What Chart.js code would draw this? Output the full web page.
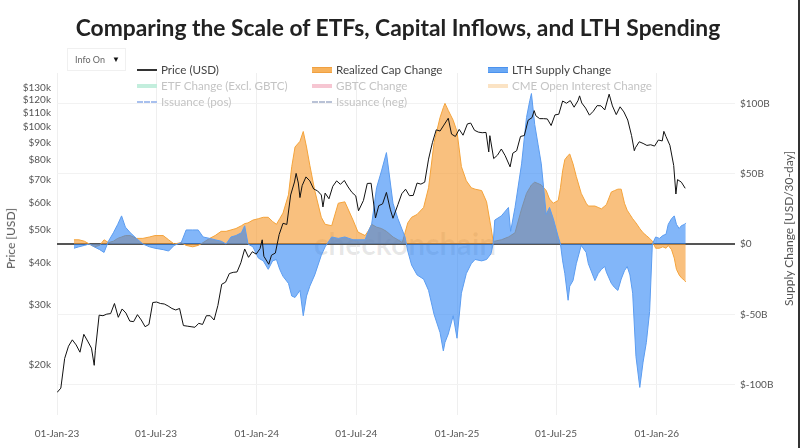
<!DOCTYPE html>
<html>
<head>
<meta charset="utf-8">
<script src="https://cdn.jsdelivr.net/npm/chart.js@4.4.1/dist/chart.umd.min.js"></script>
<style>
  html, body { margin: 0; padding: 0; background: #fff; }
  #wrap { position: relative; width: 800px; height: 448px; overflow: hidden; font-family: Lato, "Open Sans", sans-serif; }
  #title { position: absolute; left: 0; top: 13px; width: 796px; text-align: center; font-size: 22.8px; line-height: 28px; font-weight: 700; color: #222; }
  #mark { position: absolute; left: 290px; top: 225px; width: 230px; text-align: center; font-size: 30px; font-weight: 700; color: rgba(0,0,0,0.09); }
  #chart { position: absolute; left: 0; top: 0; }
  #edge { position: absolute; right: 0; top: 0; width: 2px; height: 448px; background: #333; }
  .info { position: absolute; left: 67px; top: 48px; width: 57px; height: 21px; border: 1px solid #f0f0f0; background: #fff; font-size: 9px; line-height: 21px; color: #666; }
  .info span { position: absolute; left: 7px; }
  .info b { position: absolute; right: 5px; font-size: 8px; color: #111; }
  .lg { position: absolute; height: 14px; line-height: 14px; font-size: 11.6px; color: #444; white-space: nowrap; }
  .lg.off { color: #c4c4c4; }
  .sw { display: inline-block; width: 20px; vertical-align: middle; margin-right: 4px; position: relative; top: -1px; }
  .axt { position: absolute; font-size: 12px; color: #555; white-space: nowrap; transform: rotate(-90deg); transform-origin: center center; }
</style>
</head>
<body>
<div id="wrap">
  <div id="mark">checkonchain</div>
  <canvas id="chart" width="800" height="448"></canvas>
  <div id="title">Comparing the Scale of ETFs, Capital Inflows, and LTH Spending</div>
  <div class="info"><span>Info On</span><b>&#9660;</b></div>
  <div id="legend"></div>
  <div class="axt" id="axl">Price [USD]</div>
  <div class="axt" id="axr">Supply Change [USD/30-day]</div>
  <div id="edge"></div>
</div>
<script>
// BTC price, USD
const priceDates = [
  "2023-01-01","2023-01-08","2023-01-15","2023-01-22","2023-01-29","2023-02-05","2023-02-12","2023-02-19","2023-02-26","2023-03-05",
  "2023-03-10","2023-03-12","2023-03-19","2023-03-26","2023-04-02","2023-04-09","2023-04-16","2023-04-23","2023-04-30","2023-05-07",
  "2023-05-14","2023-05-21","2023-05-28","2023-06-04","2023-06-11","2023-06-18","2023-06-25","2023-07-02","2023-07-09","2023-07-16",
  "2023-07-23","2023-07-30","2023-08-06","2023-08-13","2023-08-20","2023-08-27","2023-09-03","2023-09-10","2023-09-17","2023-09-24",
  "2023-10-01","2023-10-08","2023-10-15","2023-10-22","2023-10-29","2023-11-05","2023-11-12","2023-11-19","2023-11-26","2023-12-03",
  "2023-12-10","2023-12-17","2023-12-24","2023-12-31","2024-01-07","2024-01-11","2024-01-14","2024-01-23","2024-01-28","2024-02-04",
  "2024-02-11","2024-02-18","2024-02-25","2024-03-03","2024-03-10","2024-03-13","2024-03-17","2024-03-20","2024-03-24","2024-03-31",
  "2024-04-07","2024-04-14","2024-04-21","2024-04-28","2024-05-01","2024-05-05","2024-05-12","2024-05-19","2024-05-26","2024-06-02",
  "2024-06-09","2024-06-16","2024-06-23","2024-06-30","2024-07-05","2024-07-14","2024-07-21","2024-07-28","2024-08-05","2024-08-11",
  "2024-08-18","2024-08-25","2024-09-01","2024-09-06","2024-09-15","2024-09-22","2024-09-29","2024-10-06","2024-10-13","2024-10-20",
  "2024-10-27","2024-11-03","2024-11-10","2024-11-17","2024-11-24","2024-12-01","2024-12-08","2024-12-16","2024-12-22","2024-12-29",
  "2025-01-05","2025-01-12","2025-01-20","2025-01-26","2025-02-02","2025-02-09","2025-02-16","2025-02-23","2025-02-28","2025-03-02",
  "2025-03-09","2025-03-16","2025-03-23","2025-03-30","2025-04-08","2025-04-13","2025-04-20","2025-04-27","2025-05-04","2025-05-11",
  "2025-05-18","2025-05-22","2025-05-25","2025-06-01","2025-06-08","2025-06-15","2025-06-22","2025-06-29","2025-07-06","2025-07-13",
  "2025-07-20","2025-07-27","2025-08-03","2025-08-10","2025-08-13","2025-08-17","2025-08-24","2025-08-31","2025-09-07","2025-09-14",
  "2025-09-21","2025-09-28","2025-10-06","2025-10-12","2025-10-19","2025-10-26","2025-11-02","2025-11-09","2025-11-16","2025-11-21",
  "2025-11-23","2025-11-30","2025-12-07","2025-12-14","2025-12-21","2025-12-28","2026-01-04","2026-01-11","2026-01-14","2026-01-18",
  "2026-01-25","2026-02-01","2026-02-05","2026-02-08","2026-02-15","2026-02-22"
];
const priceUsd = [
  16600,17100,20900,22700,23700,22900,21800,24600,23500,22400,
  19950,22000,28000,27900,28200,28300,30300,27600,29200,28400,
  26900,26800,28100,27100,25900,26300,30500,30600,30300,30200,
  29800,29300,29000,29300,26100,26000,25900,25800,26500,26300,
  27900,27900,27100,29900,34500,35000,37100,37400,37500,39900,
  43800,41400,43000,42300,43900,46600,41700,39500,42000,42600,
  48300,52100,51700,63100,68900,73000,68400,62000,67200,71300,
  69400,65700,64900,63100,58200,63900,61500,66900,69400,67800,
  69600,66600,64200,62700,56700,60800,68200,68300,54000,58700,
  59400,64200,57300,53900,59100,63600,65600,62800,62900,68400,
  67900,68800,80400,89800,98000,97200,101200,106000,95200,93700,
  98300,94500,102000,102600,97700,96500,96100,96300,84400,94200,
  80700,82600,86100,82300,76300,83700,85100,93700,94300,104600,
  106400,111600,107800,105700,105700,105500,100900,108400,108900,119100,
  117300,119400,114200,119300,123300,117500,113500,108200,111100,115400,
  115300,112100,124700,115200,108600,114500,110600,104700,94200,85100,
  86800,90400,89400,88200,88600,87800,91500,90900,97000,93600,
  88300,77000,63500,70000,68800,66000
];

// 30-day supply changes, billions USD
const flowDates = [
  "2023-02-01","2023-02-10","2023-02-20","2023-03-01","2023-03-10","2023-03-20","2023-03-28","2023-04-05","2023-04-14","2023-04-22",
  "2023-04-29","2023-05-06","2023-05-15","2023-05-26","2023-06-07","2023-06-19","2023-06-29","2023-07-14","2023-07-24","2023-08-03",
  "2023-08-16","2023-08-25","2023-09-06","2023-09-16","2023-09-25","2023-10-07","2023-10-17","2023-10-28","2023-11-06","2023-11-15",
  "2023-11-24","2023-12-04","2023-12-10","2023-12-16","2023-12-25","2024-01-04","2024-01-13","2024-01-22","2024-01-30","2024-02-06",
  "2024-02-12","2024-02-18","2024-02-28","2024-03-05","2024-03-11","2024-03-20","2024-03-26","2024-04-01","2024-04-07","2024-04-16",
  "2024-04-28","2024-05-05","2024-05-17","2024-05-29","2024-06-10","2024-06-25","2024-07-04","2024-07-17","2024-07-24","2024-07-29",
  "2024-08-07","2024-08-16","2024-08-25","2024-09-06","2024-09-15","2024-09-23","2024-09-28","2024-10-03","2024-10-10","2024-10-20",
  "2024-11-01","2024-11-10","2024-11-20","2024-12-01","2024-12-07","2024-12-10","2024-12-16","2024-12-25","2025-01-01","2025-01-09",
  "2025-01-18","2025-01-27","2025-02-03","2025-02-15","2025-02-24","2025-03-04","2025-03-08","2025-03-11","2025-03-23","2025-04-05",
  "2025-04-09","2025-04-17","2025-04-29","2025-05-08","2025-05-14","2025-05-17","2025-05-23","2025-05-29","2025-06-04","2025-06-13",
  "2025-06-19","2025-06-26","2025-07-05","2025-07-09","2025-07-13","2025-07-17","2025-07-23","2025-07-26","2025-08-01","2025-08-07",
  "2025-08-16","2025-08-25","2025-08-29","2025-09-10","2025-09-16","2025-09-22","2025-09-28","2025-10-01","2025-10-10","2025-10-16",
  "2025-10-22","2025-10-28","2025-11-03","2025-11-08","2025-11-13","2025-11-18","2025-11-24","2025-12-01","2025-12-07","2025-12-13",
  "2025-12-19","2025-12-24","2025-12-30","2026-01-06","2026-01-12","2026-01-18","2026-01-22","2026-01-28","2026-02-02","2026-02-06",
  "2026-02-11","2026-02-15","2026-02-21","2026-02-23"
];
const realizedCap = [
  3,3,2,0,-2,-1,3,1,2,4,
  5,6,6,4,4,5,6,6,3,0,
  1,-1,-2,-1,1,4,6,9,9,10,
  11,13,14.5,15,17,18,19,19,16,14,
  18,22,35,55,69,73,80,69,56,38,
  19,14,13,29,30,17,8.5,6,10,14,
  12,11,9,5,3,1,8,15,19,21,
  26,40,72,90,97,100,95,88,80,55,
  45,40,39,38,30,12,2,2,3,5,
  6,8,25,36,40,42,44,43,42,38,
  32,29,31,40,52,60,63,64,57,48,
  36,29,27,27,26,25,27,28,37,38,
  39,39,29,24,21,18,15,11,8,6,
  4,2,-3,-3,-2,-3,-1,-4,-10,-18,
  -22,-24,-26,-27
];
const lthSupply = [
  -3,-2,-1,0,-2,-4,-6,2,8,14,
  20,12,8,4,0,-2,-3,-4,-5,-1,
  1,10,10,10,5,4,3,2,0,5,
  6,8,13,0,-2,-10,-12,-18,-12,-11,
  -18,-23,-28,-37,-38,-33,-51,-37,-30,-22,
  -8,-2,5,4,5,3,3,3,10,14,
  40,52,65,29,18,10,5,-5,-15,-22,
  -25,-33,-50,-63,-76,-70,-64,-51,-67,-35,
  -21,-14,-11,-12,-11,-7,0,17,20,26,
  9,26,57,90,102,107,85,71,57,21,
  26,18,5,0,-12,-21,-40,-30,-26,-14,
  -1,-6,-14,-26,-21,-18,-16,-20,-28,-31,
  -33,-25,-19,-16,-22,-35,-80,-102,-84,-70,
  -48,0,5,4,6,7,14,18,20,14,
  11,13,14,15
];

// axes
const xTickDates = ["2023-01-01","2023-07-01","2024-01-01","2024-07-01","2025-01-01","2025-07-01","2026-01-01"];
const xTickLabels = ["01-Jan-23","01-Jul-23","01-Jan-24","01-Jul-24","01-Jan-25","01-Jul-25","01-Jan-26"];
const priceTicks = [20000,30000,40000,50000,60000,70000,80000,90000,100000,110000,120000,130000];
const priceTickLabels = ["$20k","$30k","$40k","$50k","$60k","$70k","$80k","$90k","$100k","$110k","$120k","$130k"];
const flowTicks = [-100,-50,0,50,100];
const flowTickLabels = ["$-100B","$-50B","$0","$50B","$100B"];

const legendItems = [
  { label: "Price (USD)", sw: "line", color: "#333", col: 0, row: 0 },
  { label: "Realized Cap Change", sw: "band", color: "#f7b25c", edge: "#f0a040", col: 1, row: 0 },
  { label: "LTH Supply Change", sw: "band", color: "#6aa8f4", edge: "#4b92ee", col: 2, row: 0 },
  { label: "ETF Change (Excl. GBTC)", sw: "band", color: "#c3eedd", col: 0, row: 1, off: true },
  { label: "GBTC Change", sw: "band", color: "#f6c6d2", col: 1, row: 1, off: true },
  { label: "CME Open Interest Change", sw: "band", color: "#fbe3c4", col: 2, row: 1, off: true },
  { label: "Issuance (pos)", sw: "dash", color: "#a8c0ee", col: 0, row: 2, off: true },
  { label: "Issuance (neg)", sw: "dash", color: "#b9c2d6", col: 1, row: 2, off: true }
];

const FONT = "Lato, 'Open Sans', sans-serif";
const toDay = s => (Date.UTC(+s.slice(0, 4), +s.slice(5, 7) - 1, +s.slice(8, 10)) - Date.UTC(2023, 0, 1)) / 864e5;
const pts = (dates, vals) => dates.map((d, i) => ({ x: toDay(d), y: vals[i] }));

// legend (html, overlays the top of the plot like the original)
const legendEl = document.getElementById("legend");
const colX = [137, 312, 488];
const rowY = [63, 79, 95];
legendItems.forEach(it => {
  const d = document.createElement("div");
  d.className = "lg" + (it.off ? " off" : "");
  d.style.left = colX[it.col] + "px";
  d.style.top = rowY[it.row] + "px";
  const sw = document.createElement("span");
  sw.className = "sw";
  if (it.sw === "line") {
    sw.style.borderTop = "2px solid " + it.color;
  } else if (it.sw === "dash") {
    sw.style.borderTop = "2px dashed " + it.color;
  } else {
    sw.style.height = "4px";
    sw.style.background = it.color;
    if (it.edge) sw.style.borderTop = sw.style.borderBottom = "1px solid " + it.edge;
  }
  d.appendChild(sw);
  d.appendChild(document.createTextNode(it.label));
  legendEl.appendChild(d);
});

// rotated axis titles
function placeTitle(id, cx, cy) {
  const el = document.getElementById(id);
  el.style.left = (cx - el.offsetWidth / 2) + "px";
  el.style.top = (cy - el.offsetHeight / 2) + "px";
}
placeTitle("axl", 10, 238);
placeTitle("axr", 788, 228);

const tickFont = { family: FONT, size: 10 };

new Chart(document.getElementById("chart").getContext("2d"), {
  type: "line",
  data: {
    datasets: [
      {
        label: "Price (USD)",
        data: pts(priceDates, priceUsd),
        yAxisID: "y",
        borderColor: "#111",
        borderWidth: 1,
        pointRadius: 0,
        fill: false,
        order: 0
      },
      {
        label: "LTH Supply Change",
        data: pts(flowDates, lthSupply),
        yAxisID: "y1",
        borderColor: "#5b9cf0",
        backgroundColor: "rgba(40,130,245,0.58)",
        borderWidth: 1,
        pointRadius: 0,
        fill: "origin",
        order: 1
      },
      {
        label: "Realized Cap Change",
        data: pts(flowDates, realizedCap),
        yAxisID: "y1",
        borderColor: "#f4a33a",
        backgroundColor: "rgba(245,150,40,0.6)",
        borderWidth: 1,
        pointRadius: 0,
        fill: "origin",
        order: 2
      }
    ]
  },
  options: {
    responsive: false,
    animation: false,
    layout: { padding: { top: 73, left: 0, right: 0, bottom: 0 } },
    plugins: {
      legend: { display: false },
      tooltip: { enabled: false },
      title: { display: false }
    },
    scales: {
      x: {
        type: "linear",
        min: 0,
        max: 1239,
        afterBuildTicks: s => { s.ticks = xTickDates.map(d => ({ value: toDay(d) })); },
        afterFit: s => { s.height = 33; },
        ticks: {
          autoSkip: false,
          maxRotation: 0,
          padding: 13,
          font: tickFont,
          color: "#555",
          callback: (v, i) => xTickLabels[i]
        },
        grid: { color: "#efefef", drawTicks: false },
        border: { display: false }
      },
      y: {
        type: "logarithmic",
        position: "left",
        min: 14260,
        max: 143900,
        afterBuildTicks: s => { s.ticks = priceTicks.map(v => ({ value: v })); },
        afterFit: s => { s.width = 57; },
        ticks: {
          autoSkip: false,
          padding: 6,
          font: tickFont,
          color: "#555",
          callback: (v, i) => priceTickLabels[i]
        },
        grid: { display: false, drawTicks: false },
        border: { display: false }
      },
      y1: {
        type: "linear",
        position: "right",
        min: -121.6,
        max: 121.6,
        afterBuildTicks: s => { s.ticks = flowTicks.map(v => ({ value: v })); },
        afterFit: s => { s.width = 65; },
        ticks: {
          autoSkip: false,
          padding: 5,
          font: tickFont,
          color: "#555",
          callback: (v, i) => flowTickLabels[i]
        },
        grid: {
          drawTicks: false,
          color: c => (c.tick && c.tick.value === 0 ? "#555" : "#f2f2f2"),
          lineWidth: c => (c.tick && c.tick.value === 0 ? 2 : 1)
        },
        border: { display: false }
      }
    }
  }
});
</script>
</body>
</html>
